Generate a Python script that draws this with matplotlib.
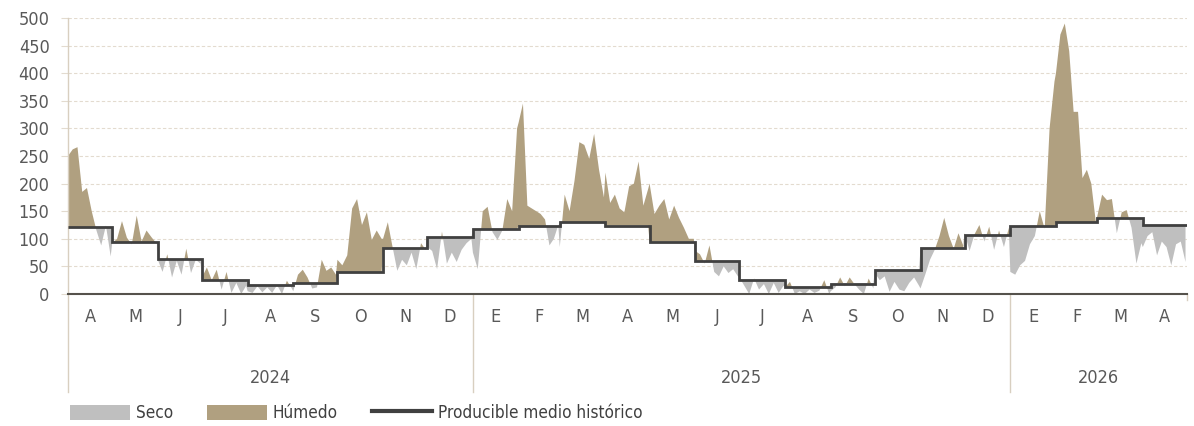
import numpy as np
import pandas as pd
import matplotlib
matplotlib.use("Agg")
import matplotlib.pyplot as plt
import matplotlib.dates as mdates
import matplotlib.transforms as mtransforms
from matplotlib.patches import Patch
from matplotlib.lines import Line2D

plt.rcParams["font.family"] = ["DejaVu Sans"]
plt.rcParams["font.stretch"] = "condensed"
plt.rcParams["font.size"] = 13

# producible medio historico, one value per month (abr 2024 .. abr 2026)
producible = [121, 94, 63, 25, 17, 20, 40, 83, 103,
              118, 123, 130, 124, 95, 60, 26, 13, 19, 43, 83, 106,
              123, 130, 138, 125]

# producible diario, ~cada 3 dias dentro de cada mes
abr24 = [250, 262, 266, 185, 192, 150, 115, 88, 124, 68]
may24 = [92, 100, 132, 102, 90, 142, 95, 115, 103, 92]
jun24 = [62, 40, 72, 30, 60, 35, 82, 38, 62, 55]
jul24 = [30, 48, 25, 44, 8, 40, 2, 20, 0, 15]
ago24 = [5, 2, 14, 3, 12, 2, 16, 0, 24, 10]
sep24 = [5, 35, 44, 30, 10, 12, 62, 42, 48, 35]
oct24 = [62, 52, 70, 155, 172, 125, 148, 98, 115, 100]
nov24 = [100, 130, 85, 42, 62, 52, 75, 45, 92, 80]
dic24 = [85, 78, 45, 113, 55, 75, 58, 80, 92, 100]
ene25 = [75, 45, 150, 158, 112, 98, 115, 172, 150, 300]
feb25 = [310, 345, 160, 155, 150, 145, 135, 88, 100, 125]
mar25 = [85, 180, 150, 205, 275, 270, 245, 290, 225, 175]
abr25 = [220, 165, 180, 155, 148, 195, 200, 240, 160, 190]
may25 = [200, 145, 160, 172, 135, 160, 138, 120, 100, 100]
jun25 = [78, 72, 55, 88, 40, 32, 50, 38, 45, 32]
jul25 = [30, 15, 0, 28, 8, 18, 0, 20, 2, 15]
ago25 = [12, 22, 0, 5, 0, 8, 2, 6, 25, 0]
sep25 = [5, 12, 30, 14, 30, 18, 8, 0, 28, 10]
oct25 = [38, 25, 32, 4, 22, 8, 5, 20, 30, 15]
nov25 = [10, 35, 62, 80, 105, 138, 105, 82, 110, 88]
dic25 = [110, 78, 108, 125, 95, 122, 80, 115, 85, 120]
ene26 = [40, 35, 52, 60, 90, 105, 150, 118, 300, 385]
feb26 = [400, 470, 490, 440, 330, 330, 210, 225, 200, 132]
mar26 = [140, 180, 170, 172, 110, 148, 152, 120, 55, 92]
abr26 = [85, 105, 112, 70, 95, 85, 52, 90, 95, 58]

daily_by_month = [abr24, may24, jun24, jul24, ago24, sep24, oct24, nov24, dic24,
                  ene25, feb25, mar25, abr25, may25, jun25, jul25, ago25, sep25,
                  oct25, nov25, dic25, ene26, feb26, mar26, abr26]

month_labels = ["A", "M", "J", "J", "A", "S", "O", "N", "D",
                "E", "F", "M", "A", "M", "J", "J", "A", "S", "O", "N", "D",
                "E", "F", "M", "A"]
years = ["2024", "2025", "2026"]
year_starts = ["2024-04-01", "2025-01-01", "2026-01-01", "2026-05-01"]

SECO = "#bfbfbf"
HUMEDO = "#b0a080"
LINEA = "#404040"
GRID = "#e3dbcf"
SEP = "#d8cfc0"
TXT = "#595959"

edges = pd.date_range("2024-04-01", "2026-05-01", freq="MS")
edges_num = mdates.date2num(edges)

x, y, s, mids = [], [], [], []
for i, vals in enumerate(daily_by_month):
    ndays = (edges[i + 1] - edges[i]).days
    offs = np.linspace(0, ndays - 1, len(vals))
    x.extend(edges_num[i] + offs)
    y.extend(vals)
    s.extend([producible[i]] * len(vals))
    mids.append(edges_num[i] + ndays / 2)
x = np.array(x, dtype=float)
y = np.array(y, dtype=float)
s = np.array(s, dtype=float)

fig = plt.figure(figsize=(11.94, 4.26), dpi=100)
ax = fig.add_axes([68 / 1194, 1 - 294 / 426, (1187 - 68) / 1194, 276 / 426])

ax.fill_between(x, y, s, where=y >= s, interpolate=True, color=HUMEDO, lw=0, zorder=2)
ax.fill_between(x, y, s, where=y <= s, interpolate=True, color=SECO, lw=0, zorder=2)
ax.stairs(producible, edges_num, color=LINEA, lw=2, baseline=None, zorder=3)

ax.set_xlim(edges_num[0], edges_num[-1])
ax.set_ylim(0, 500)
ax.set_yticks(range(0, 501, 50))
ax.yaxis.grid(True, color=GRID, ls=(0, (3, 2)), lw=0.8)
ax.set_axisbelow(True)
for sp in ["top", "right", "left"]:
    ax.spines[sp].set_visible(False)
ax.spines["bottom"].set_color("#55524c")
ax.spines["bottom"].set_linewidth(1.5)
ax.spines["bottom"].set_zorder(4)
ax.tick_params(axis="y", length=5.25, color=GRID, labelcolor=TXT, pad=8)

ax.set_xticks(mids)
ax.set_xticklabels(month_labels)
ax.tick_params(axis="x", length=0, labelcolor=TXT, pad=10)

trans = mtransforms.blended_transform_factory(ax.transData, ax.transAxes)
ys = mdates.date2num(pd.to_datetime(year_starts))
for i, yr in enumerate(years):
    ax.text((ys[i] + ys[i + 1]) / 2, -0.305, yr, transform=trans,
            ha="center", va="center", color=TXT)
ax.plot([ys[0], ys[0]], [1.0, -0.355], transform=trans, color=SEP, lw=1, clip_on=False)
for xv in ys[1:3]:
    ax.plot([xv, xv], [0, -0.355], transform=trans, color=SEP, lw=1, clip_on=False)
ax.plot([ys[3], ys[3]], [0, -0.022], transform=trans, color=SEP, lw=1, clip_on=False)

handles = [Patch(color=SECO, lw=0), Patch(color=HUMEDO, lw=0), Line2D([], [], color=LINEA, lw=3)]
fig.legend(handles, ["Seco", "Húmedo", "Producible medio histórico"],
           loc="center left", bbox_to_anchor=(70 / 1194, 1 - 413 / 426),
           ncol=3, frameon=False, borderaxespad=0, borderpad=0, fontsize=12.3,
           handlelength=3.5, handleheight=1.0, handletextpad=0.35,
           columnspacing=2.0, labelcolor="#404040")

fig.savefig("out.png", dpi=100)
